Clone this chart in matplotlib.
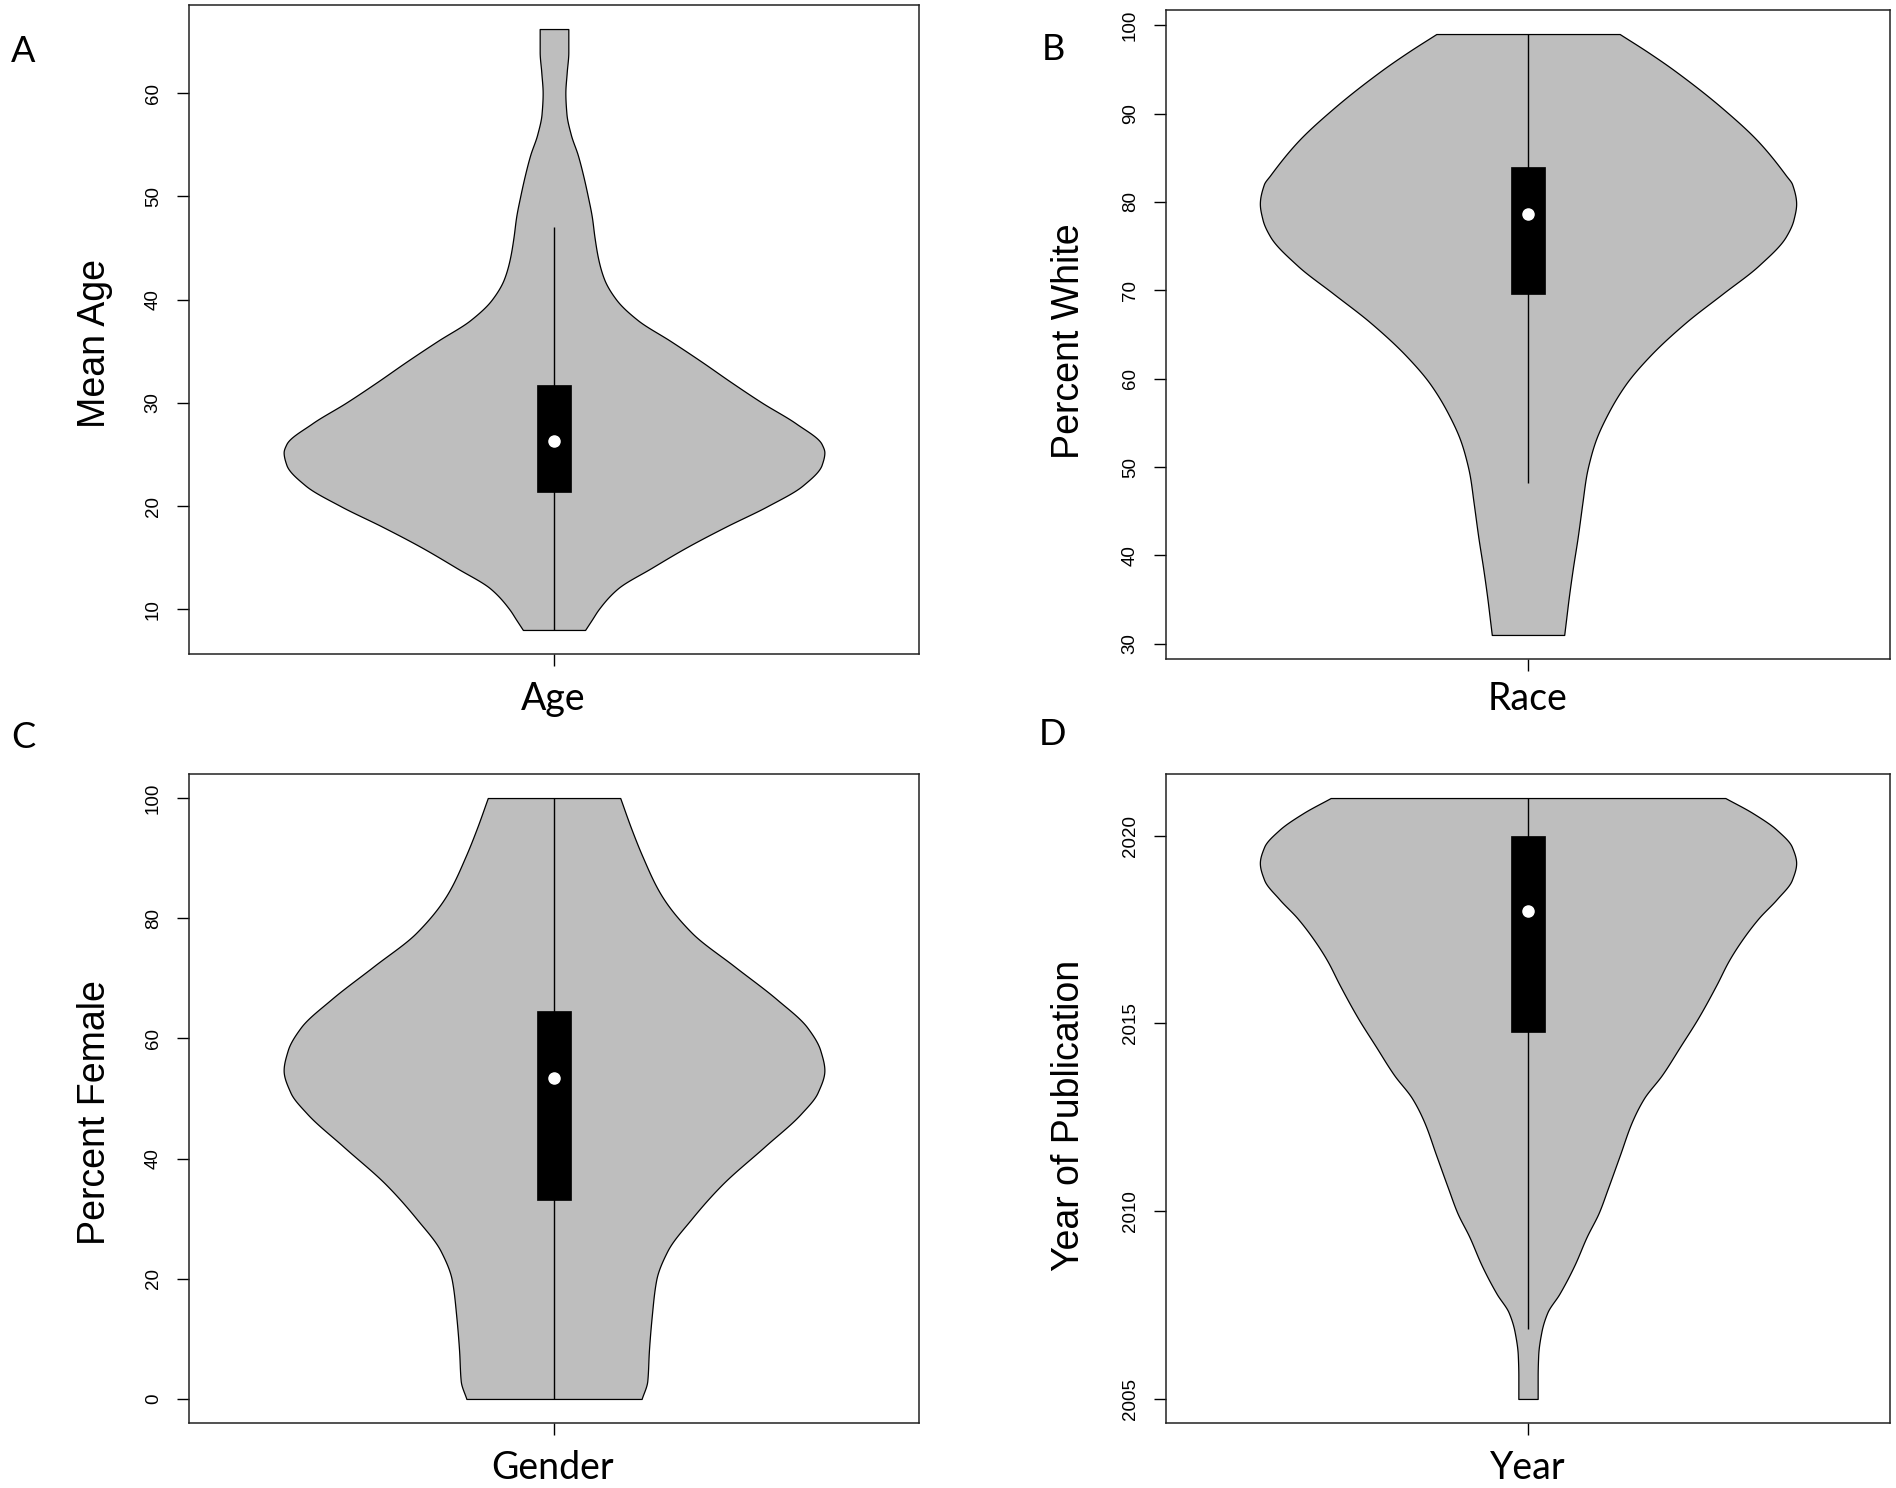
import matplotlib
matplotlib.use("Agg")
import matplotlib.pyplot as plt
from matplotlib.patches import Rectangle
import numpy as np

# ---------------- data ----------------
panel_letters = ["A", "B", "C", "D"]
x_labels = ["Age", "Race", "Gender", "Year"]
y_labels = ["Mean Age", "Percent White", "Percent Female", "Year of Publication"]

# violin outlines: value levels and relative half-width (1 = widest)
age_levels = [8, 9, 10, 12, 14, 16, 18, 20, 22, 24, 25.2, 26, 28, 30, 32, 34, 36, 38, 40,
              42, 44, 46, 48, 50, 52, 54, 56, 58, 60, 62, 64, 66.2]
age_width = [0.115, 0.14, 0.165, 0.235, 0.36, 0.49, 0.635, 0.79, 0.92, 0.99, 1.0, 0.99, 0.895,
             0.77, 0.655, 0.545, 0.43, 0.31, 0.23, 0.185, 0.163, 0.15, 0.14, 0.125, 0.108,
             0.088, 0.062, 0.046, 0.042, 0.047, 0.053, 0.053]

race_levels = [31, 33, 35, 38.5, 42, 46, 49, 51, 53, 56, 59.4, 62.6, 66.4, 69.6, 72.8, 76.1,
               78, 79.8, 82, 83.0, 86.8, 90.6, 94.9, 97, 99]
race_width = [0.135, 0.143, 0.151, 0.167, 0.185, 0.203, 0.217, 0.232, 0.252, 0.297, 0.365,
              0.455, 0.59, 0.725, 0.86, 0.962, 0.99, 1.0, 0.985, 0.962, 0.86, 0.725, 0.545,
              0.445, 0.342]

gender_levels = [0, 3, 8, 14, 19.8, 24.6, 30, 35.7, 42, 47.5, 51, 54.7, 58, 61.8, 66.5, 72,
                 77.6, 83.9, 90.3, 95, 100]
gender_width = [0.324, 0.345, 0.351, 0.362, 0.378, 0.419, 0.509, 0.622, 0.779, 0.914, 0.975,
                1.0, 0.985, 0.937, 0.824, 0.667, 0.509, 0.396, 0.327, 0.285, 0.245]

year_levels = [2005, 2005.6, 2006.16, 2006.79, 2007.3, 2007.8, 2008.56, 2009.32, 2009.96,
               2010.59, 2011.48, 2012.37, 2013.0, 2013.63, 2014.39, 2015.15, 2016.03,
               2016.66, 2017.17, 2017.8, 2018.31, 2018.82, 2019.27, 2019.7, 2020.15,
               2020.6, 2021]
year_width = [0.036, 0.036, 0.038, 0.05, 0.072, 0.117, 0.173, 0.219, 0.264, 0.297, 0.342,
              0.387, 0.432, 0.5, 0.568, 0.635, 0.703, 0.748, 0.793, 0.86, 0.928, 0.984, 1.0,
              0.984, 0.928, 0.838, 0.736]

# box summaries: lower whisker, Q1, median, Q3, upper whisker
age_box = [8, 21.4, 26.3, 31.7, 47.0]
race_box = [48.2, 69.6, 78.6, 84.0, 99]
gender_box = [0, 33.1, 53.4, 64.6, 100]
year_box = [2006.86, 2014.77, 2018.0, 2020.0, 2021]

age_ticks = [10, 20, 30, 40, 50, 60]
race_ticks = [30, 40, 50, 60, 70, 80, 90, 100]
gender_ticks = [0, 20, 40, 60, 80, 100]
year_ticks = [2005, 2010, 2015, 2020]

levels = [age_levels, race_levels, gender_levels, year_levels]
widths = [age_width, race_width, gender_width, year_width]
boxes = [age_box, race_box, gender_box, year_box]
ticks = [age_ticks, race_ticks, gender_ticks, year_ticks]


def smooth_outline(x, y, n=600):
    """Monotone cubic (Fritsch-Carlson) curve through the read outline points."""
    x = np.asarray(x, float)
    y = np.asarray(y, float)
    h = np.diff(x)
    d = np.diff(y) / h
    m = np.zeros_like(y)
    m[0], m[-1] = d[0], d[-1]
    for k in range(1, len(x) - 1):
        if d[k - 1] * d[k] <= 0:
            m[k] = 0.0
        else:
            w1 = 2 * h[k] + h[k - 1]
            w2 = h[k] + 2 * h[k - 1]
            m[k] = (w1 + w2) / (w1 / d[k - 1] + w2 / d[k])
    xs = np.linspace(x[0], x[-1], n)
    idx = np.clip(np.searchsorted(x, xs) - 1, 0, len(x) - 2)
    t = (xs - x[idx]) / h[idx]
    h00 = 2 * t**3 - 3 * t**2 + 1
    h10 = t**3 - 2 * t**2 + t
    h01 = -2 * t**3 + 3 * t**2
    h11 = t**3 - t**2
    ys = h00 * y[idx] + h10 * h[idx] * m[idx] + h01 * y[idx + 1] + h11 * h[idx] * m[idx + 1]
    return xs, ys


# ---------------- layout ----------------
W, H = 1896, 1488
fig = plt.figure(figsize=(W / 100, H / 100), dpi=100)

# axes boxes in pixels: left, top, right, bottom
boxes_px = [(189, 5, 919, 654), (1166, 10, 1890, 659),
            (189, 774, 919, 1423), (1166, 774, 1890, 1423)]
letter_pos = [(23, 51), (1053, 50), (23, 737), (1052, 735)]
ylabel_pos = [(95, 343), (1069, 341), (95, 1113), (1069, 1115)]
xlabel_pos = [(553, 699), (1528, 699), (553, 1468), (1528, 1468)]

HALF = 0.4      # max half-width of violin
BOXHALF = 0.025

for i in range(4):
    l, t, r, b = boxes_px[i]
    ax = fig.add_axes([l / W, 1 - b / H, (r - l) / W, (b - t) / H])
    lo, hi = min(levels[i]), max(levels[i])
    pad = (hi - lo) * 0.04
    ax.set_ylim(lo - pad, hi + pad)
    ax.set_xlim(0.46, 1.54)

    ys, ws = smooth_outline(levels[i], widths[i])
    ax.fill_betweenx(ys, 1 - ws * HALF, 1 + ws * HALF, facecolor="#BEBEBE",
                     edgecolor="black", linewidth=0.9, zorder=1)
    wl, q1, med, q3, wh = boxes[i]
    ax.vlines(1, wl, wh, color="black", linewidth=1.0, zorder=2)
    ax.add_patch(Rectangle((1 - BOXHALF, q1), 2 * BOXHALF, q3 - q1,
                           facecolor="black", edgecolor="black", linewidth=0.5, zorder=3))
    ax.plot([1], [med], "o", color="white", markersize=8, markeredgecolor="white", zorder=4)

    ax.set_yticks(ticks[i])
    ax.set_yticklabels([str(v) for v in ticks[i]], rotation=90, va="center",
                       family="Liberation Sans", fontsize=13.5)
    ax.set_xticks([1])
    ax.set_xticklabels([""])
    ax.tick_params(axis="both", direction="out", length=8.6, width=1.0, pad=11,
                   color="black")
    for s in ax.spines.values():
        s.set_linewidth(1.1)
        s.set_color("#222222")

    # labels
    fig.text(ylabel_pos[i][0] / W, 1 - ylabel_pos[i][1] / H, y_labels[i], rotation=90,
             ha="center", va="center", family="Liberation Sans", fontsize=27)
    fig.text(xlabel_pos[i][0] / W, 1 - xlabel_pos[i][1] / H, x_labels[i],
             ha="center", va="center", family="Lato", fontsize=27)
    fig.text(letter_pos[i][0] / W, 1 - letter_pos[i][1] / H, panel_letters[i],
             ha="center", va="center", family="Lato", fontsize=26)

fig.savefig("out.png", dpi=100, facecolor="white")
